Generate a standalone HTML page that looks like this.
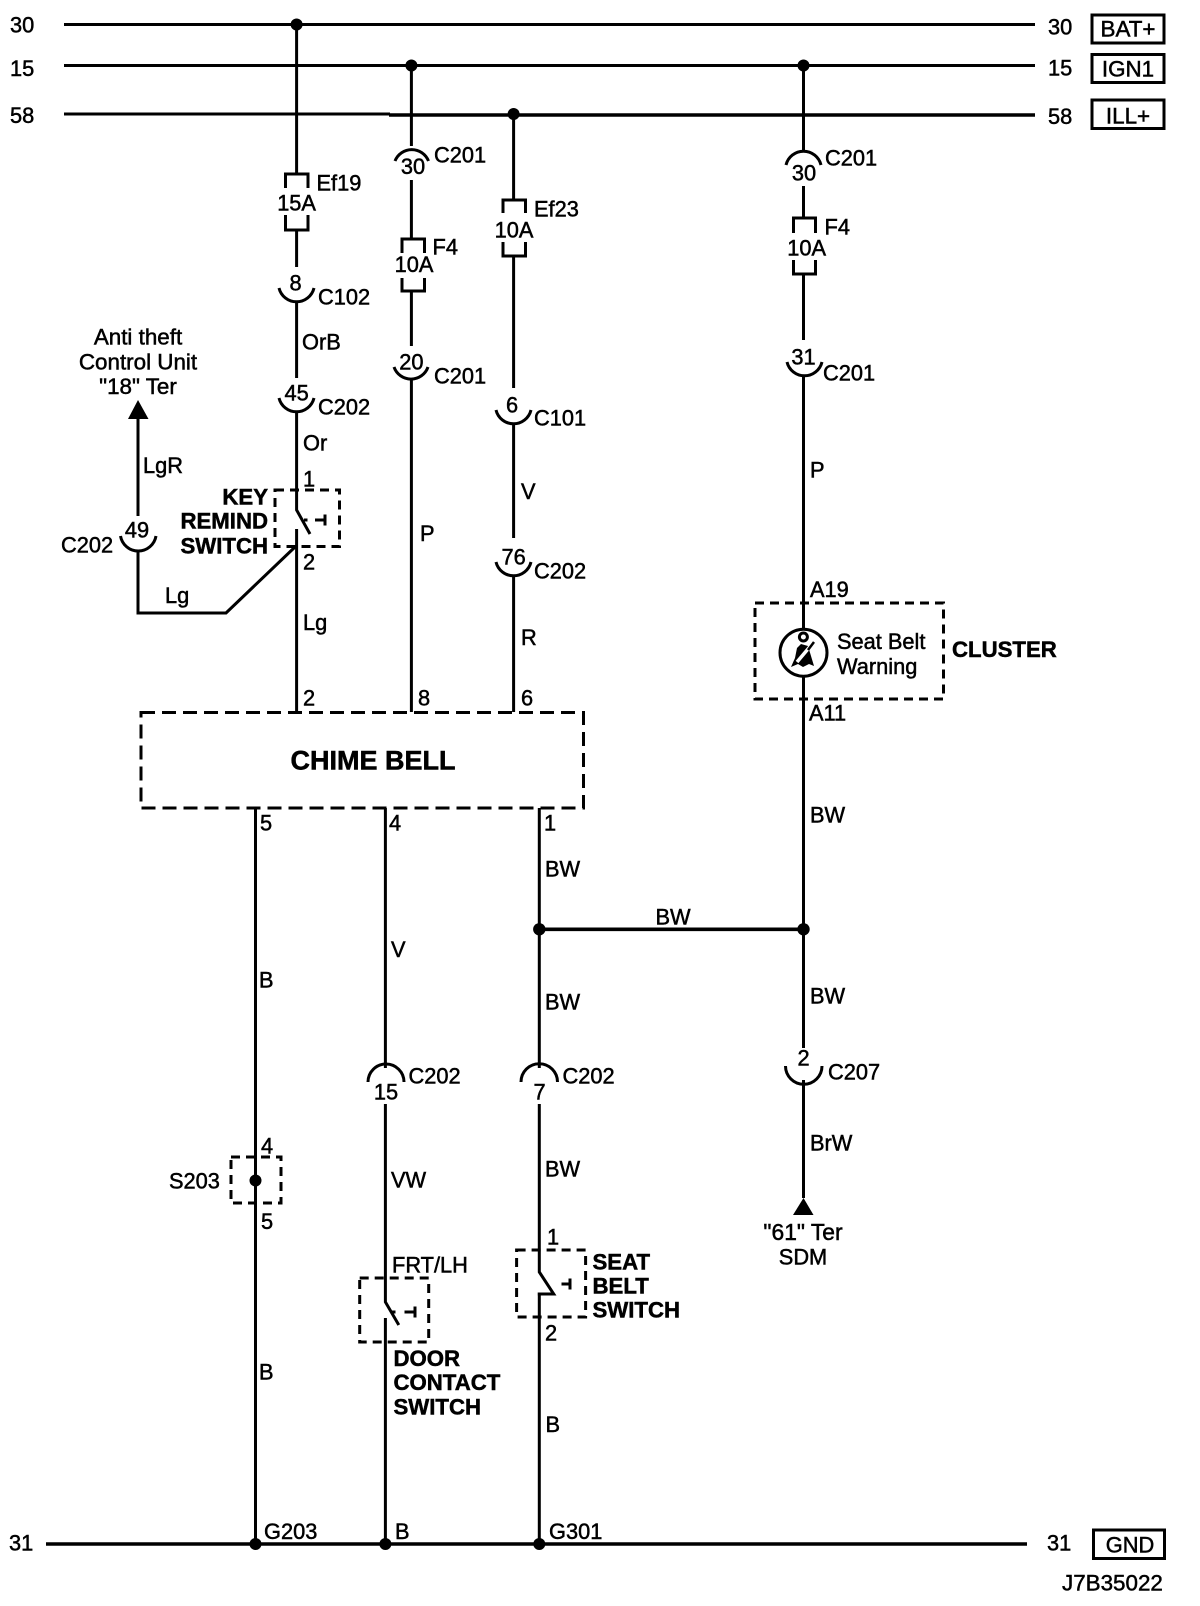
<!DOCTYPE html>
<html><head><meta charset="utf-8"><title>Chime Bell Diagram</title>
<style>
html,body{margin:0;padding:0;background:#fff}
svg{display:block}
text{font-family:"Liberation Sans",sans-serif;font-size:21.8px;fill:#000;stroke:#000;stroke-width:.5}
.b{font-weight:bold;font-size:22.2px;stroke-width:.5}
.l{font-size:22.4px}
.m{text-anchor:middle}
.e{text-anchor:end}
.w{fill:none;stroke:#000;stroke-width:3}
.t{fill:none;stroke:#000;stroke-width:3.6}
.d1{fill:none;stroke:#000;stroke-width:3;stroke-dasharray:9 6}
.d2{fill:none;stroke:#000;stroke-width:3;stroke-dasharray:14 7}
</style></head><body>
<svg width="1200" height="1606" viewBox="0 0 1200 1606" xmlns="http://www.w3.org/2000/svg">
<rect width="1200" height="1606" fill="#fff"/>
<!-- bus lines -->
<path class="w" d="M64 24.5H1035M64 65.5H1035M64 114H390" />
<path class="t" d="M389 115H1035M46 1544H1027"/>
<!-- wire 1 -->
<path class="w" d="M296.6 24V173M296.6 231V267M296.6 302V378M296.6 412V510L310 534M296.6 529V712"/>
<!-- wire 2 -->
<path class="w" d="M411.4 65V146M411.4 180V238M411.4 292V346M411.4 380V712"/>
<!-- wire 3 -->
<path class="w" d="M513.6 114V199M513.6 257V388M513.6 423V538M513.6 576V712"/>
<!-- wire 4 -->
<path class="w" d="M803.5 65V152M803.5 186V217M803.5 275V340M803.5 375V629M803.5 677V1048M803.5 1080V1198"/>
<!-- lower wires -->
<path class="w" d="M255.5 808V1544"/>
<path class="w" d="M385.4 808V1068M385.4 1104V1302L398.8 1325M385.4 1318V1544"/>
<path class="w" d="M539.3 808V1068M539.3 1104V1272L553.7 1294H537.7M539.3 1294V1544"/>
<path class="t" d="M539.3 929.3H803.5"/>
<!-- left branch -->
<path class="w" d="M138 417V516M138 550V613H226L295 547"/>
<polygon points="138,400 128,419 148.5,419" fill="#000"/>
<polygon points="803.5,1198 793,1215 813.5,1215" fill="#000"/>
<!-- junction dots -->
<g fill="#000">
<circle cx="296.6" cy="24.5" r="6"/><circle cx="411.4" cy="65.5" r="6"/><circle cx="513.6" cy="114" r="6"/><circle cx="803.5" cy="65.5" r="6"/>
<circle cx="539.3" cy="929.3" r="6.2"/><circle cx="803.5" cy="929.3" r="6.2"/>
<circle cx="255.5" cy="1180.5" r="6"/>
<circle cx="255.5" cy="1544" r="6"/><circle cx="385.4" cy="1544" r="6"/><circle cx="539.3" cy="1544" r="6"/>
</g>
<!-- fuses -->
<path class="w" d="M285.5 188V174H308V188M285.5 215V230H308V215"/>
<path class="w" d="M402 253V239H424.5V253M402 278V291H424.5V278"/>
<path class="w" d="M503 213V200H525.5V213M503 242V256H525.5V242"/>
<path class="w" d="M793.5 233V218H815.5V233M793.5 260V274H815.5V260"/>
<!-- connector arcs -->
<path class="w" d="M279 288A18 18 0 0 0 314 288"/>
<path class="w" d="M279 398A18 18 0 0 0 314 398"/>
<path class="w" d="M395 161A18 18 0 0 1 428.5 161"/>
<path class="w" d="M394 367A18 18 0 0 0 428 367"/>
<path class="w" d="M496 410A18 18 0 0 0 531 410"/>
<path class="w" d="M496 562A18 18 0 0 0 531 562"/>
<path class="w" d="M120.5 536A18 18 0 0 0 156 536"/>
<path class="w" d="M786 165A18 18 0 0 1 821 165"/>
<path class="w" d="M787 362A18 18 0 0 0 822 362"/>
<path class="w" d="M368 1082A18 18 0 0 1 404 1082"/>
<path class="w" d="M521 1082A18 18 0 0 1 557.5 1082"/>
<path class="w" d="M785.5 1066A18 18 0 0 0 822 1066"/>
<!-- dashed boxes -->
<rect class="d2" x="141" y="712.5" width="442.5" height="95.5"/>
<rect class="d1" x="275" y="490" width="64.5" height="56.5"/>
<rect class="d1" x="755" y="603" width="188.5" height="96"/>
<rect class="d1" x="231" y="1157" width="50" height="46"/>
<rect class="d1" x="359.7" y="1278" width="69" height="64"/>
<rect class="d1" x="516.6" y="1250" width="69" height="67"/>
<!-- switch symbols -->
<path class="w" d="M304 520H307.5M315 520H325M325 514.5V525.5"/>
<path class="w" d="M392 1312H395.5M404.5 1312H415M415 1306.5V1317.5"/>
<path class="w" d="M561.5 1284H570M570 1278.5V1289.5"/>
<!-- seat belt icon -->
<circle cx="803.5" cy="652.7" r="23.5" fill="#fff" stroke="#000" stroke-width="3"/>
<circle cx="803.4" cy="637" r="4" fill="none" stroke="#000" stroke-width="3"/>
<polygon points="801,644 808,646 811,656 814,666 809,664 803,667 798,664 791,667 795,658 797,648" fill="#000"/>
<path d="M813 643L797 662" stroke="#fff" stroke-width="3.5" fill="none"/>
<path d="M814 642L808 650" stroke="#000" stroke-width="2.5" fill="none"/>
<!-- output boxes -->
<g fill="none" stroke="#000" stroke-width="3">
<rect x="1092" y="15" width="72" height="28"/>
<rect x="1092" y="54.5" width="72" height="28"/>
<rect x="1092" y="100" width="72" height="28.5"/>
<rect x="1093.5" y="1530" width="71" height="28.5"/>
</g>
<!-- left / right bus labels -->
<text x="10" y="32.5">30</text><text x="10" y="76">15</text><text x="10" y="123">58</text>
<text x="1048" y="34.5">30</text><text x="1048" y="75.5">15</text><text x="1048" y="124">58</text>
<text class="m l" x="1128" y="36.5">BAT+</text><text class="m l" x="1128" y="76.5">IGN1</text><text class="m l" x="1128" y="123.5">ILL+</text>
<text x="9" y="1550.5">31</text><text x="1047" y="1550.5">31</text>
<text class="m" x="1130" y="1552.5">GND</text>
<text class="l" x="1062" y="1590.5">J7B35022</text>
<text x="264" y="1539">G203</text><text x="395" y="1539">B</text><text x="549" y="1539">G301</text>
<!-- column 1 -->
<text x="316.5" y="190.5">Ef19</text>
<text class="m" x="296.6" y="210.5">15A</text>
<text class="m" x="295.5" y="290.5">8</text>
<text x="318" y="304.5">C102</text>
<text x="302" y="349.5">OrB</text>
<text class="m" x="296.6" y="400.5">45</text>
<text x="318" y="414.5">C202</text>
<text x="303" y="450.5">Or</text>
<text x="303" y="486.5">1</text>
<text x="303" y="569.5">2</text>
<text x="303" y="630">Lg</text>
<text x="303" y="705.5">2</text>
<!-- column 2 -->
<text x="434" y="162.5">C201</text>
<text class="m" x="413" y="174">30</text>
<text x="432.5" y="254.5">F4</text>
<text class="m" x="414" y="272">10A</text>
<text class="m" x="411.4" y="369.5">20</text>
<text x="434" y="383.5">C201</text>
<text x="420" y="541">P</text>
<text x="418" y="705.5">8</text>
<!-- column 3 -->
<text x="534" y="216.5">Ef23</text>
<text class="m" x="514" y="237.5">10A</text>
<text class="m" x="512" y="412.5">6</text>
<text x="534" y="425.5">C101</text>
<text x="521" y="499">V</text>
<text class="m" x="513.6" y="564.5">76</text>
<text x="534" y="578.5">C202</text>
<text x="521" y="645">R</text>
<text x="521" y="705.5">6</text>
<!-- column 4 -->
<text x="825" y="165.5">C201</text>
<text class="m" x="804" y="180.5">30</text>
<text x="824.5" y="234.5">F4</text>
<text class="m" x="806.7" y="255.5">10A</text>
<text class="m" x="803.5" y="364.5">31</text>
<text x="823" y="380.5">C201</text>
<text x="810" y="477.5">P</text>
<text x="810" y="597">A19</text>
<text x="837" y="649">Seat Belt</text>
<text x="837" y="674">Warning</text>
<text class="b" x="952" y="657">CLUSTER</text>
<text x="809" y="720.5">A11</text>
<text x="810" y="822.5">BW</text>
<text x="810" y="1003.5">BW</text>
<text class="m" x="803.5" y="1065.5">2</text>
<text x="828" y="1079.5">C207</text>
<text x="810" y="1150.5">BrW</text>
<text class="m l" x="803" y="1240" style="font-size:22.8px">"61" Ter</text>
<text class="m" x="803" y="1264.5">SDM</text>
<!-- left branch labels -->
<text class="m l" x="138" y="344.5">Anti theft</text>
<text class="m l" x="138" y="369.5">Control Unit</text>
<text class="m l" x="138" y="394">"18" Ter</text>
<text x="143" y="473">LgR</text>
<text class="m" x="137" y="537.5">49</text>
<text x="61" y="552.5">C202</text>
<text x="165" y="603">Lg</text>
<text class="b e" x="268" y="504.5">KEY</text>
<text class="b e" x="268" y="528.5">REMIND</text>
<text class="b e" x="268" y="553.5">SWITCH</text>
<!-- chime -->
<text class="b m" x="373" y="769.5" style="font-size:27px">CHIME BELL</text>
<text x="260" y="830.5">5</text><text x="389" y="830.5">4</text><text x="544" y="830.5">1</text>
<!-- lower labels -->
<text x="259" y="987.5">B</text>
<text x="391" y="957">V</text>
<text x="545" y="876.5">BW</text>
<text class="m" x="673" y="924.5">BW</text>
<text x="545" y="1009.5">BW</text>
<text x="261" y="1153.5">4</text>
<text x="169" y="1188.5">S203</text>
<text x="261" y="1229">5</text>
<text x="259" y="1379.5">B</text>
<text class="m" x="386" y="1099.5">15</text>
<text x="408.5" y="1083.5">C202</text>
<text x="391" y="1187.5">VW</text>
<text x="392" y="1272.5">FRT/LH</text>
<text class="b" x="393.5" y="1366">DOOR</text>
<text class="b" x="393.5" y="1390">CONTACT</text>
<text class="b" x="393.5" y="1414.5">SWITCH</text>
<text class="m" x="539.5" y="1099.5">7</text>
<text x="562.5" y="1083.5">C202</text>
<text x="545" y="1176.5">BW</text>
<text x="547" y="1244.5">1</text>
<text x="545" y="1340.5">2</text>
<text class="b" x="592.5" y="1269.5">SEAT</text>
<text class="b" x="592.5" y="1293.5">BELT</text>
<text class="b" x="592.5" y="1317.5">SWITCH</text>
<text x="545.5" y="1432">B</text>
</svg>
</body></html>
